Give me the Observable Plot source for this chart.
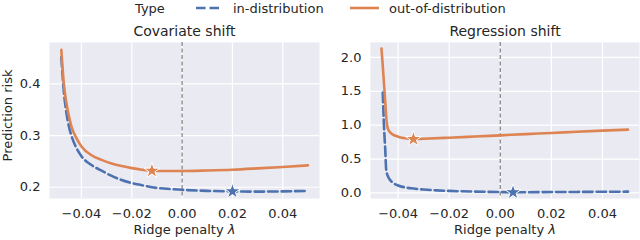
<!DOCTYPE html>
<html><head><meta charset="utf-8">
<script src="https://cdn.jsdelivr.net/npm/d3@7"></script>
<script src="https://cdn.jsdelivr.net/npm/@observablehq/plot@0.6"></script>
<style>
body{margin:0;background:#fff;font-family:"DejaVu Sans",sans-serif;color:#262626}
#wrap{position:relative;width:640px;height:240px;overflow:hidden;background:#fff}
#legend{position:absolute;left:0;top:0}
#charts{position:absolute;left:0;top:20px;display:flex}
</style></head><body>
<div id="wrap"><svg id="legend" width="640" height="20"></svg><div id="charts"></div></div>
<script>
// ---- data ----
const seriesNames = ["in-distribution", "out-of-distribution"];
const legendTitle = "Type";
const panelTitles = ["Covariate shift", "Regression shift"];
const xLabel = "Ridge penalty λ";
const yLabel = "Prediction risk";
const xTicks = [-0.04, -0.02, 0, 0.02, 0.04];
const covYTicks = [0.2, 0.3, 0.4];
const regYTicks = [0, 0.5, 1, 1.5, 2];

const covX   = [-0.048,-0.047,-0.046,-0.045,-0.044,-0.042,-0.040,-0.036,-0.032,-0.028,-0.024,-0.020,-0.016,-0.012,-0.006,0,0.01,0.02,0.03,0.04,0.05];
const covOut = [0.466,0.400,0.364,0.338,0.318,0.295,0.279,0.262,0.253,0.246,0.241,0.237,0.234,0.232,0.2315,0.2315,0.2325,0.234,0.2365,0.2393,0.2424];
const covIn  = [0.452,0.385,0.345,0.318,0.300,0.276,0.260,0.243,0.232,0.222,0.214,0.208,0.204,0.200,0.197,0.195,0.193,0.192,0.1915,0.192,0.193];

const regOutX = [-0.0465,-0.046,-0.0455,-0.045,-0.0445,-0.044,-0.043,-0.042,-0.040,-0.038,-0.036,-0.034,-0.030,-0.020,-0.010,0,0.01,0.02,0.03,0.04,0.05];
const regOut  = [2.13,1.88,1.60,1.33,1.06,0.95,0.89,0.86,0.83,0.81,0.80,0.795,0.80,0.815,0.832,0.85,0.868,0.885,0.903,0.92,0.935];
const regInX  = [-0.046,-0.0455,-0.045,-0.0447,-0.0444,-0.044,-0.0435,-0.043,-0.042,-0.040,-0.037,-0.034,-0.030,-0.025,-0.020,-0.010,0,0.005,0.01,0.02,0.03,0.04,0.05];
const regIn   = [1.48,0.97,0.62,0.36,0.29,0.25,0.21,0.185,0.15,0.11,0.08,0.065,0.05,0.038,0.03,0.02,0.013,0.01,0.011,0.013,0.015,0.017,0.019];

// optimum markers [x, y]
const covStarIn = [0.020, 0.192], covStarOut = [-0.012, 0.232];
const regStarIn = [0.005, 0.010], regStarOut = [-0.034, 0.795];

const colors = ["#4c72b0", "#dd8452"];

// ---- legend ----
const lg = d3.select("#legend").attr("font-family","DejaVu Sans").attr("font-size",13).attr("fill","#262626");
lg.append("text").attr("x",135).attr("y",8).attr("dominant-baseline","central").text(legendTitle);
lg.append("line").attr("x1",196).attr("x2",222).attr("y1",8).attr("y2",8).attr("stroke",colors[0]).attr("stroke-width",2.6).attr("stroke-dasharray","9.5,4");
lg.append("text").attr("x",233).attr("y",8).attr("dominant-baseline","central").text(seriesNames[0]);
lg.append("line").attr("x1",350).attr("x2",379).attr("y1",8).attr("y2",8).attr("stroke",colors[1]).attr("stroke-width",2.6);
lg.append("text").attr("x",389).attr("y",8).attr("dominant-baseline","central").text(seriesNames[1]);

function panel({title, xDomain, yDomain, yTicks, yFmt, inX, inY, outX, outY, starIn, starOut, marginLeft, ylab}) {
  const inData = inX.map((x, i) => ({x, y: inY[i]}));
  const outData = outX.map((x, i) => ({x, y: outY[i]}));
  const svg = Plot.plot({
    width: 320, height: 220, marginLeft, marginRight: 1, marginTop: 22, marginBottom: 42,
    style: {fontFamily: "DejaVu Sans", fontSize: "13px", color: "#262626", background: "transparent"},
    x: {domain: xDomain},
    y: {domain: yDomain},
    marks: [
      Plot.frame({fill: "#eaeaf2", stroke: null}),
      Plot.gridX(xTicks, {stroke: "#ffffff", strokeOpacity: 1, strokeWidth: 1.2}),
      Plot.gridY(yTicks, {stroke: "#ffffff", strokeOpacity: 1, strokeWidth: 1.2}),
      Plot.axisX(xTicks, {tickSize: 0, tickPadding: 10, label: null, fontSize: 13, tickFormat: d3.format(".2f")}),
      Plot.axisY(yTicks, {tickSize: 0, tickPadding: 9, label: null, fontSize: 13, tickFormat: d3.format(yFmt)}),
      Plot.ruleX([0], {stroke: "#7f7f7f", strokeWidth: 1.2, strokeDasharray: "4,2.5"}),
      Plot.line(inData, {x: "x", y: "y", stroke: colors[0], strokeWidth: 2.6, strokeDasharray: "9.5,4", curve: "monotone-x"}),
      Plot.line(outData, {x: "x", y: "y", stroke: colors[1], strokeWidth: 2.6, curve: "monotone-x"}),
      Plot.dot([starIn], {x: d => d[0], y: d => d[1], symbol: "star", fill: colors[0], stroke: "white", strokeWidth: 1, r: 5}),
      Plot.dot([starOut], {x: d => d[0], y: d => d[1], symbol: "star", fill: colors[1], stroke: "white", strokeWidth: 1, r: 5}),
      Plot.text([title], {text: d => d, frameAnchor: "top", dy: -11, lineAnchor: "middle", fontSize: 14}),
      Plot.text([xLabel], {text: d => d, frameAnchor: "bottom", dy: 31.7, lineAnchor: "middle", fontSize: 13}),
      ylab ? Plot.text([ylab], {text: d => d, frameAnchor: "left", rotate: -90, dx: -42, dy: -5, textAnchor: "middle", lineAnchor: "middle", fontSize: 13}) : null
    ]
  });
  d3.select(svg).selectAll("text").filter(function(){ return this.textContent === xLabel; })
    .each(function(){
      const t = d3.select(this);
      t.text("Ridge penalty ");
      t.append("tspan").attr("font-style", "italic").text("λ");
    });
  return svg;
}

const charts = document.getElementById("charts");
charts.append(panel({title: panelTitles[0], xDomain: [-0.0527, 0.0546], yDomain: [0.1782, 0.4803], yTicks: covYTicks, yFmt: ".1f",
  inX: covX, inY: covIn, outX: covX, outY: covOut, starIn: covStarIn, starOut: covStarOut, marginLeft: 49, ylab: yLabel}));
charts.append(panel({title: panelTitles[1], xDomain: [-0.0508, 0.0545], yDomain: [-0.082, 2.22], yTicks: regYTicks, yFmt: ".1f",
  inX: regInX, inY: regIn, outX: regOutX, outY: regOut, starIn: regStarIn, starOut: regStarOut, marginLeft: 50, ylab: null}));
</script>
</body></html>
